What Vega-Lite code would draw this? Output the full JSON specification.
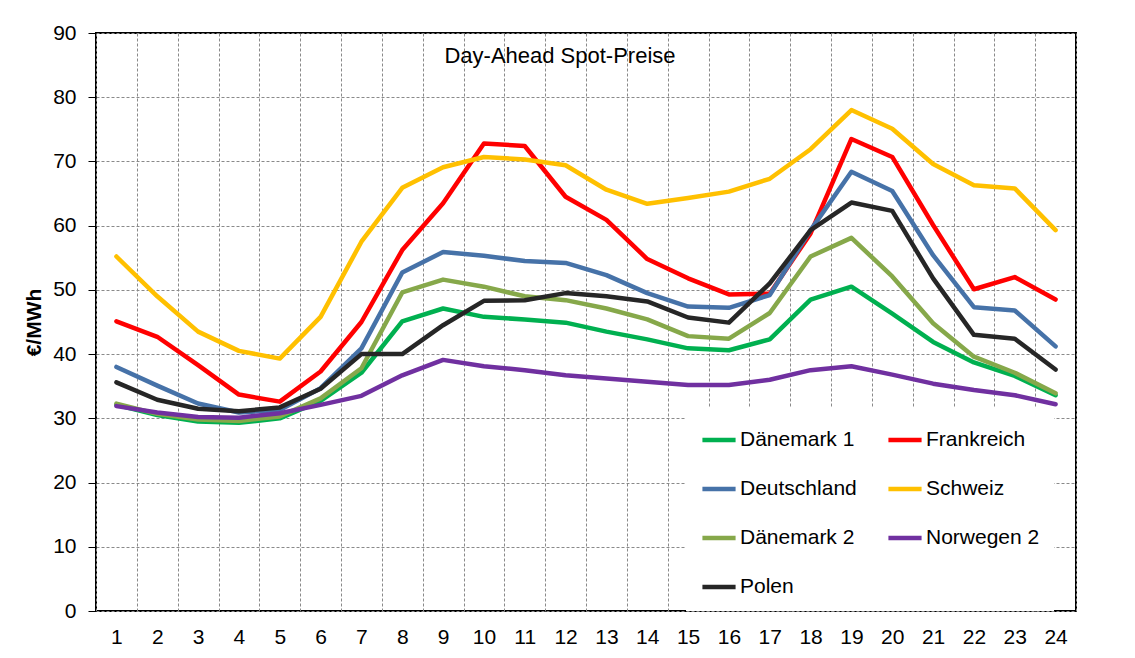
{
  "$schema": "https://vega.github.io/schema/vega-lite/v6.json",
  "autosize": "none",
  "width": 980,
  "height": 578,
  "padding": {"left": 96, "top": 33, "right": 59, "bottom": 47},
  "background": "white",
  "title": {
    "text": "Day-Ahead Spot-Preise",
    "anchor": "middle",
    "baseline": "top",
    "offset": -12,
    "dx": -26,
    "dy": 34,
    "font": "Liberation Sans",
    "fontSize": 22,
    "fontWeight": "normal",
    "color": "black"
  },
  "config": {
    "view": {"stroke": "black", "strokeWidth": 2},
    "font": "Liberation Sans",
    "axis": {
      "labelFont": "Liberation Sans",
      "labelFontSize": 21,
      "labelColor": "black",
      "titleFont": "Liberation Sans",
      "titleColor": "black",
      "gridColor": "#8a8a8a",
      "gridDash": [3, 2],
      "gridWidth": 1,
      "domain": false
    },
    "legend": {
      "labelFont": "Liberation Sans",
      "labelFontSize": 21,
      "labelColor": "black"
    }
  },
  "data": {
    "values": [
      {"h": 1, "Dänemark 1": 32.1, "Frankreich": 45.1, "Deutschland": 38.0, "Schweiz": 55.2, "Dänemark 2": 32.3, "Norwegen 2": 31.9, "Polen": 35.6},
      {"h": 2, "Dänemark 1": 30.5, "Frankreich": 42.7, "Deutschland": 35.1, "Schweiz": 49.0, "Dänemark 2": 30.7, "Norwegen 2": 30.9, "Polen": 32.9},
      {"h": 3, "Dänemark 1": 29.5, "Frankreich": 38.3, "Deutschland": 32.3, "Schweiz": 43.5, "Dänemark 2": 29.8, "Norwegen 2": 30.2, "Polen": 31.5},
      {"h": 4, "Dänemark 1": 29.3, "Frankreich": 33.7, "Deutschland": 30.9, "Schweiz": 40.5, "Dänemark 2": 29.6, "Norwegen 2": 30.1, "Polen": 31.1},
      {"h": 5, "Dänemark 1": 30.0, "Frankreich": 32.6, "Deutschland": 31.3, "Schweiz": 39.3, "Dänemark 2": 30.3, "Norwegen 2": 30.8, "Polen": 31.7},
      {"h": 6, "Dänemark 1": 32.7, "Frankreich": 37.3, "Deutschland": 34.7, "Schweiz": 45.8, "Dänemark 2": 33.1, "Norwegen 2": 32.1, "Polen": 34.6},
      {"h": 7, "Dänemark 1": 37.1, "Frankreich": 45.0, "Deutschland": 40.9, "Schweiz": 57.5, "Dänemark 2": 37.8, "Norwegen 2": 33.5, "Polen": 40.0},
      {"h": 8, "Dänemark 1": 45.1, "Frankreich": 56.2, "Deutschland": 52.7, "Schweiz": 65.9, "Dänemark 2": 49.6, "Norwegen 2": 36.7, "Polen": 40.0},
      {"h": 9, "Dänemark 1": 47.1, "Frankreich": 63.5, "Deutschland": 55.9, "Schweiz": 69.1, "Dänemark 2": 51.6, "Norwegen 2": 39.1, "Polen": 44.5},
      {"h": 10, "Dänemark 1": 45.8, "Frankreich": 72.8, "Deutschland": 55.3, "Schweiz": 70.7, "Dänemark 2": 50.5, "Norwegen 2": 38.1, "Polen": 48.3},
      {"h": 11, "Dänemark 1": 45.4, "Frankreich": 72.4, "Deutschland": 54.5, "Schweiz": 70.3, "Dänemark 2": 49.0, "Norwegen 2": 37.5, "Polen": 48.4},
      {"h": 12, "Dänemark 1": 44.9, "Frankreich": 64.5, "Deutschland": 54.2, "Schweiz": 69.4, "Dänemark 2": 48.4, "Norwegen 2": 36.7, "Polen": 49.5},
      {"h": 13, "Dänemark 1": 43.5, "Frankreich": 60.9, "Deutschland": 52.3, "Schweiz": 65.6, "Dänemark 2": 47.1, "Norwegen 2": 36.2, "Polen": 49.0},
      {"h": 14, "Dänemark 1": 42.3, "Frankreich": 54.8, "Deutschland": 49.5, "Schweiz": 63.4, "Dänemark 2": 45.4, "Norwegen 2": 35.7, "Polen": 48.2},
      {"h": 15, "Dänemark 1": 40.9, "Frankreich": 51.8, "Deutschland": 47.4, "Schweiz": 64.3, "Dänemark 2": 42.8, "Norwegen 2": 35.2, "Polen": 45.7},
      {"h": 16, "Dänemark 1": 40.6, "Frankreich": 49.3, "Deutschland": 47.2, "Schweiz": 65.3, "Dänemark 2": 42.4, "Norwegen 2": 35.2, "Polen": 44.9},
      {"h": 17, "Dänemark 1": 42.3, "Frankreich": 49.4, "Deutschland": 49.2, "Schweiz": 67.3, "Dänemark 2": 46.4, "Norwegen 2": 36.0, "Polen": 51.0},
      {"h": 18, "Dänemark 1": 48.5, "Frankreich": 58.8, "Deutschland": 59.3, "Schweiz": 71.9, "Dänemark 2": 55.2, "Norwegen 2": 37.5, "Polen": 59.3},
      {"h": 19, "Dänemark 1": 50.5, "Frankreich": 73.5, "Deutschland": 68.4, "Schweiz": 78.0, "Dänemark 2": 58.1, "Norwegen 2": 38.1, "Polen": 63.6},
      {"h": 20, "Dänemark 1": 46.3, "Frankreich": 70.7, "Deutschland": 65.4, "Schweiz": 75.1, "Dänemark 2": 52.1, "Norwegen 2": 36.8, "Polen": 62.3},
      {"h": 21, "Dänemark 1": 41.9, "Frankreich": 60.1, "Deutschland": 55.4, "Schweiz": 69.6, "Dänemark 2": 44.8, "Norwegen 2": 35.4, "Polen": 51.8},
      {"h": 22, "Dänemark 1": 38.7, "Frankreich": 50.1, "Deutschland": 47.3, "Schweiz": 66.3, "Dänemark 2": 39.6, "Norwegen 2": 34.4, "Polen": 43.0},
      {"h": 23, "Dänemark 1": 36.6, "Frankreich": 52.0, "Deutschland": 46.8, "Schweiz": 65.8, "Dänemark 2": 37.1, "Norwegen 2": 33.6, "Polen": 42.4},
      {"h": 24, "Dänemark 1": 33.6, "Frankreich": 48.5, "Deutschland": 41.2, "Schweiz": 59.3, "Dänemark 2": 33.9, "Norwegen 2": 32.2, "Polen": 37.6}
    ]
  },
  "transform": [
    {"fold": ["Dänemark 1", "Frankreich", "Deutschland", "Schweiz", "Dänemark 2", "Norwegen 2", "Polen"], "as": ["series", "v"]}
  ],
  "mark": {"type": "line", "strokeJoin": "round", "strokeCap": "round"},
  "encoding": {
    "x": {
      "field": "h",
      "type": "ordinal",
      "scale": {"type": "band", "paddingInner": 0, "paddingOuter": 0},
      "axis": {
        "title": null,
        "labelAngle": 0,
        "ticks": false,
        "labelPadding": 15,
        "grid": true,
        "tickBand": "extent"
      }
    },
    "y": {
      "field": "v",
      "type": "quantitative",
      "scale": {"domain": [0, 90], "nice": false},
      "axis": {
        "title": "€/MWh",
        "titleFontSize": 21,
        "titleFontWeight": "bold",
        "titlePadding": 8,
        "values": [0, 10, 20, 30, 40, 50, 60, 70, 80, 90],
        "ticks": true,
        "tickSize": 8,
        "tickColor": "black",
        "tickWidth": 1,
        "labelPadding": 12,
        "grid": true
      }
    },
    "color": {
      "field": "series",
      "type": "nominal",
      "scale": {
        "domain": ["Dänemark 1", "Deutschland", "Dänemark 2", "Polen", "Frankreich", "Schweiz", "Norwegen 2"],
        "range": ["#00B050", "#4672A8", "#86A84A", "#262626", "#FF0000", "#FFC000", "#7030A0"]
      },
      "legend": {
        "title": null,
        "orient": "none",
        "legendX": 590,
        "legendY": 374,
        "columns": 2,
        "columnPadding": 22,
        "rowPadding": 20,
        "padding": 14,
        "fillColor": "white",
        "symbolType": "stroke",
        "symbolSize": 1100,
        "labelOffset": 2,
        "encode": {
          "symbols": {
            "update": {
              "strokeWidth": {"scale": "strokeWidth", "field": "value"}
            }
          }
        }
      }
    },
    "strokeWidth": {
      "field": "series",
      "type": "nominal",
      "scale": {
        "domain": ["Dänemark 1", "Deutschland", "Dänemark 2", "Polen", "Frankreich", "Schweiz", "Norwegen 2"],
        "range": [4.5, 4.5, 2.8, 2.6, 4.5, 4.5, 4.5]
      },
      "legend": null
    }
  }
}
